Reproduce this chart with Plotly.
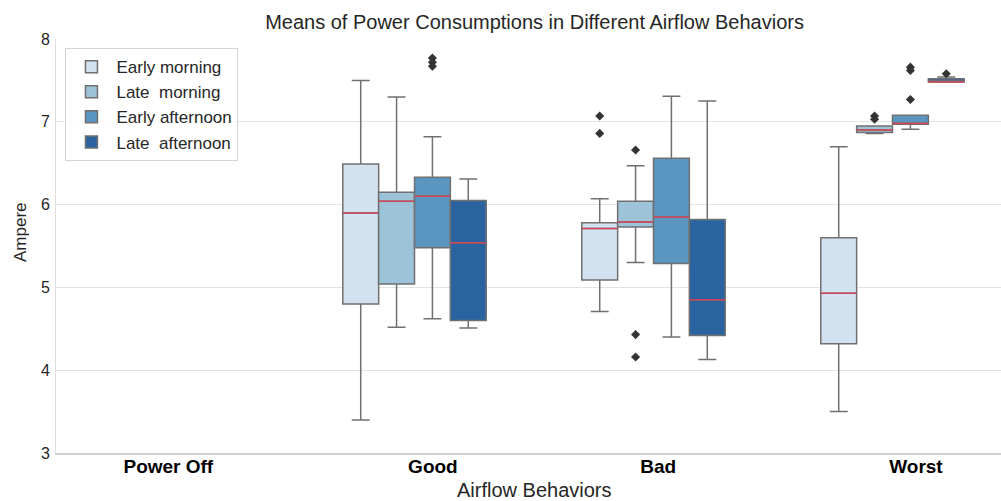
import plotly.graph_objects as go

# ---- data -------------------------------------------------------------
categories = ["Power Off", "Good", "Bad", "Worst"]
series_names = ["Early morning", "Late  morning", "Early afternoon", "Late  afternoon"]
box_categories = ["Good", "Bad", "Worst"]   # Power Off has no measurements

em_lower = [3.40, 4.71, 3.50]
em_q1 = [4.80, 5.09, 4.32]
em_med = [5.90, 5.71, 4.93]
em_q3 = [6.49, 5.78, 5.60]
em_upper = [7.50, 6.07, 6.70]
em_out = {"Bad": [7.07, 6.86]}

lm_lower = [4.52, 5.30, 6.86]
lm_q1 = [5.04, 5.73, 6.87]
lm_med = [6.04, 5.79, 6.90]
lm_q3 = [6.15, 6.04, 6.95]
lm_upper = [7.30, 6.47, 6.95]
lm_out = {"Bad": [6.66, 4.43, 4.16], "Worst": [7.07, 7.03]}

ea_lower = [4.62, 4.40, 6.91]
ea_q1 = [5.48, 5.29, 6.97]
ea_med = [6.10, 5.85, 6.98]
ea_q3 = [6.33, 6.56, 7.08]
ea_upper = [6.82, 7.31, 7.08]
ea_out = {"Good": [7.77, 7.72, 7.67], "Worst": [7.66, 7.62, 7.27]}

la_lower = [4.51, 4.13, 7.48]
la_q1 = [4.60, 4.42, 7.48]
la_med = [5.54, 4.85, 7.48]
la_q3 = [6.05, 5.82, 7.52]
la_upper = [6.31, 7.25, 7.54]
la_out = {"Worst": [7.58]}

y_ticks = [3, 4, 5, 6, 7, 8]

# ---- styles -----------------------------------------------------------
colors = ["#d3e2f0", "#9dc3d9", "#5a96bf", "#2a64a0"]
edge = "#707070"
median_color = "rgba(218,66,86,0.95)"
box_w = 0.15
label_pos = [-0.03, 1.077, 2.02, 3.098]

stats = [
    (em_lower, em_q1, em_med, em_q3, em_upper, em_out),
    (lm_lower, lm_q1, lm_med, lm_q3, lm_upper, lm_out),
    (ea_lower, ea_q1, ea_med, ea_q3, ea_upper, ea_out),
    (la_lower, la_q1, la_med, la_q3, la_upper, la_out),
]

fig = go.Figure()
for j, (lo, q1, med, q3, up, outs) in enumerate(stats):
    offset = (j - 1.5) * box_w
    xs = [categories.index(c) + offset for c in box_categories]
    fig.add_trace(go.Box(
        name=series_names[j], x=xs, lowerfence=lo, q1=q1, median=med, q3=q3,
        upperfence=up, width=box_w, whiskerwidth=0.5,
        fillcolor=colors[j], line=dict(color=edge, width=1.5),
        boxpoints=False, showlegend=True, hoverinfo="skip",
    ))
    # red median line overlay
    fig.add_trace(go.Box(
        x=xs, lowerfence=med, q1=med, median=med, q3=med, upperfence=med,
        width=box_w, whiskerwidth=0, fillcolor="rgba(0,0,0,0)",
        line=dict(color=median_color, width=1.5),
        boxpoints=False, showlegend=False, hoverinfo="skip",
    ))
    ox, oy = [], []
    for c, vals in outs.items():
        for v in vals:
            ox.append(categories.index(c) + offset)
            oy.append(v)
    if ox:
        fig.add_trace(go.Scatter(
            x=ox, y=oy, mode="markers", showlegend=False, hoverinfo="skip",
            marker=dict(symbol="diamond", size=7, color="#333333"),
        ))

font_family = "Liberation Sans, Arial, sans-serif"
fig.update_layout(
    width=1001, height=501,
    margin=dict(l=56, r=0, t=39, b=48),
    paper_bgcolor="white", plot_bgcolor="white",
    boxmode="overlay",
    font=dict(family=font_family, color="#262626"),
    title=dict(text="Means of Power Consumptions in Different Airflow Behaviors",
               x=0.534, xref="container", xanchor="center",
               y=1 - 22 / 501, yref="container", yanchor="middle",
               font=dict(size=20, color="#262626")),
    legend=dict(x=0.01, y=0.978, xanchor="left", yanchor="top", itemwidth=40,
                bgcolor="rgba(255,255,255,0.85)", bordercolor="#d5d5d5", borderwidth=1,
                font=dict(size=17, color="#262626"), tracegroupgap=0),
    xaxis=dict(range=[-0.5, 3.454], tickmode="array", tickvals=label_pos,
               ticktext=categories, showgrid=False, zeroline=False,
               showline=True, linecolor="#cfcfcf", linewidth=1.5,
               tickfont=dict(size=19, color="black", family=font_family, weight="bold"),
               ticks="", ticklabelstandoff=-5),
    yaxis=dict(range=[3, 8], tickvals=y_ticks, showgrid=True, gridcolor="#e3e3e3",
               gridwidth=1.2, zeroline=False, showline=True, linecolor="#dcdcdc",
               tickfont=dict(size=16, color="#262626"), ticks="", ticklabelstandoff=2),
    annotations=[
        dict(text="Airflow Behaviors", xref="paper", yref="paper",
             x=(534 - 56) / 945, y=-(490 - 453) / 414, xanchor="center", yanchor="middle",
             showarrow=False, font=dict(size=20, color="#262626")),
        dict(text="Ampere", xref="paper", yref="paper", textangle=-90,
             x=-(56 - 21) / 945, y=(453 - 232) / 414, xanchor="center", yanchor="middle",
             showarrow=False, font=dict(size=17, color="#262626")),
    ],
)

fig.write_html("out.html", config={"displayModeBar": False},
               post_script="document.body.style.margin='0';")
